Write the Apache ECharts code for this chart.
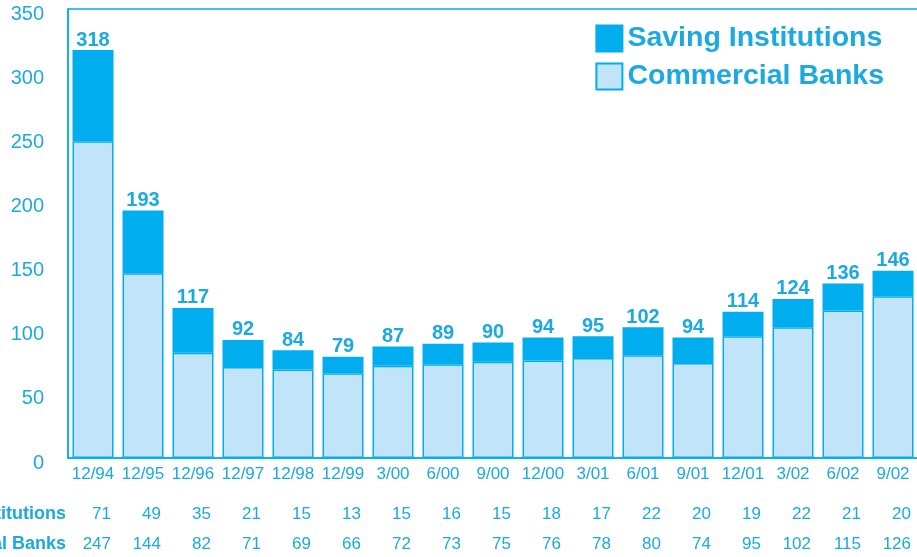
<!DOCTYPE html>
<html>
<head>
<meta charset="utf-8">
<script src="https://cdn.jsdelivr.net/npm/echarts@6/dist/echarts.min.js"></script>
<style>
html, body { margin: 0; padding: 0; background: #fff; }
#main { width: 917px; height: 557px; }
</style>
</head>
<body>
<div id="main"></div>
<script>
// periods on the x axis
var periods = ['12/94', '12/95', '12/96', '12/97', '12/98', '12/99', '3/00', '6/00', '9/00', '12/00', '3/01', '6/01', '9/01', '12/01', '3/02', '6/02', '9/02'];
// number of institutions
var savingInst = [71, 49, 35, 21, 15, 13, 15, 16, 15, 18, 17, 22, 20, 19, 22, 21, 20];
var commercialBanks = [247, 144, 82, 71, 69, 66, 72, 73, 75, 76, 78, 80, 74, 95, 102, 115, 126];
var totals = [318, 193, 117, 92, 84, 79, 87, 89, 90, 94, 95, 102, 94, 114, 124, 136, 146];

var blue = '#00aeef';
var light = '#c2e4f8';
var txt = '#1ca9e2';
var font = 'Liberation Sans, Arial, sans-serif';

// data table rows under the chart, done as extra category axes
function tableAxis(name, values, offset) {
	return {
		type: 'category',
		data: periods,
		position: 'bottom',
		offset: offset,
		axisLine: { show: false },
		axisTick: { show: false },
		name: name,
		nameLocation: 'start',
		nameGap: 2,
		nameTextStyle: {
			color: txt, fontSize: 18, fontWeight: 'bold', fontFamily: font,
			verticalAlign: 'top', padding: [7, 0, 0, 0]
		},
		axisLabel: {
			margin: 8,
			interval: 0,
			formatter: function (v, i) { return '{a|' + values[i] + '}'; },
			rich: {
				a: { width: 36, align: 'right', color: txt, fontSize: 17, fontFamily: font }
			}
		}
	};
}

var myChart = echarts.init(document.getElementById('main'));

var option = {
	animation: false,
	grid: {
		left: 68, top: 9, width: 850, height: 449,
		outerBoundsMode: 'none',
		containLabel: false,
		show: true, borderColor: blue, borderWidth: 1.5
	},
	legend: {
		orient: 'vertical',
		right: 28, top: 19,
		itemWidth: 26, itemHeight: 26, itemGap: 9,
		icon: 'rect',
		data: ['Saving Institutions', 'Commercial Banks'],
		textStyle: { color: txt, fontSize: 28.5, fontWeight: 'bold', fontFamily: font }
	},
	xAxis: [{
		type: 'category',
		data: periods,
		axisLine: { lineStyle: { color: blue, width: 1.5 } },
		axisTick: { show: false },
		axisLabel: { color: txt, fontSize: 17, fontFamily: font, margin: 8, interval: 0 }
	},
		tableAxis('Saving Institutions', savingInst, 40),
		tableAxis('Commercial Banks', commercialBanks, 70)
	],
	yAxis: {
		type: 'value',
		min: 0, max: 350, interval: 50,
		axisLine: { show: true, lineStyle: { color: blue, width: 1.5 } },
		axisTick: { show: false },
		splitLine: { show: false },
		axisLabel: {
			color: txt, fontSize: 20, fontFamily: font, margin: 24,
			verticalAlign: 'top', lineHeight: 10
		}
	},
	series: [{
		name: 'Commercial Banks',
		type: 'bar',
		stack: 'total',
		data: commercialBanks,
		barWidth: 41,
		itemStyle: { color: light, borderColor: blue, borderWidth: 1.5 }
	}, {
		name: 'Saving Institutions',
		type: 'bar',
		stack: 'total',
		data: savingInst,
		barWidth: 41,
		itemStyle: { color: blue, borderColor: blue, borderWidth: 1.5 },
		label: {
			show: true,
			position: 'top',
			distance: 0,
			color: txt,
			fontSize: 20,
			fontWeight: 'bold',
			fontFamily: font,
			formatter: function (p) { return totals[p.dataIndex]; }
		}
	}]
};

myChart.setOption(option);
</script>
</body>
</html>
